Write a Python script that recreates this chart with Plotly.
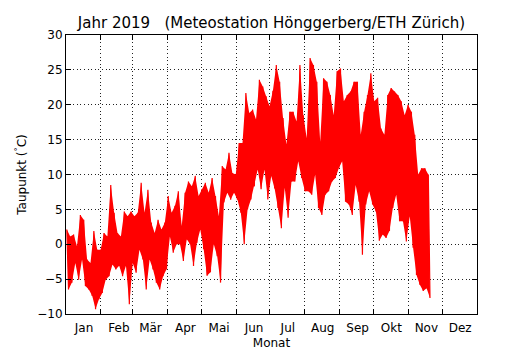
import pandas as pd
import plotly.graph_objects as go

# Dew point: highs and lows per 3-day block, starting 2019-01-01
block_hi = [2.1, 1.1, 1.4, -0.3, 4.2, 3.5, -2.2, -2.7, 1.9, -0.8,
            -0.8, 1.6, 1.1, 8.5, 4.5, 1.6, 1.1, 4.7, 4.0, 4.7,
            4.0, 4.5, 8.8, 4.5, 7.8, 3.1, 1.6, 3.5, 2.1, 3.1,
            6.9, 4.5, 5.5, 7.6, 2.6, 7.4, 9.0, 8.3, 9.8, 6.9,
            7.9, 8.8, 7.4, 9.5, 6.9, 4.0, 11.2, 10.7, 13.1, 10.2,
            10.0, 14.5, 14.5, 21.7, 18.8, 19.3, 17.9, 23.6, 22.6, 21.2,
            19.8, 22.0, 25.7, 23.3, 18.1, 14.3, 19.0, 19.0, 17.6, 25.7,
            18.5, 15.2, 26.7, 25.7, 23.3, 14.7, 23.8, 23.3, 21.4, 18.5,
            24.8, 25.2, 20.5, 21.4, 21.9, 23.3, 23.3, 15.7, 19.0, 21.4,
            24.5, 20.5, 21.0, 16.6, 15.7, 21.4, 22.4, 21.9, 21.4, 20.5,
            18.5, 20.0, 19.0, 15.7, 10.0, 10.9, 10.9, 10.0]
block_lo = [-6.5, -5.5, -2.7, -5.1, -2.2, -6.0, -6.5, -7.4, -9.3, -7.9,
            -7.0, -5.1, -4.6, -2.9, -3.6, -3.1, -4.6, -3.1, -8.6, -2.7,
            -4.1, -0.8, -2.2, -6.5, -2.2, -3.6, -5.5, -6.5, -4.6, -3.6,
            1.1, -1.2, 0.0, 0.0, -2.4, 0.7, 0.0, -3.1, 0.2, 2.1,
            -0.7, -4.5, -4.0, 0.0, -1.7, -5.5, 6.0, 7.4, 6.4, 7.4,
            6.4, 4.5, 0.0, 5.0, 6.4, 8.3, 10.7, 7.9, 10.7, 6.4,
            9.8, 8.0, 5.2, 2.3, 8.1, 3.8, 9.0, 9.0, 11.9, 9.5,
            7.6, 7.6, 7.1, 10.0, 5.2, 4.2, 7.1, 7.6, 9.0, 9.5,
            10.9, 11.9, 6.1, 5.7, 4.2, 8.5, 6.1, -1.5, 5.7, 7.6,
            5.7, 4.7, 0.5, 1.4, 0.9, 1.9, 5.2, 7.1, 3.3, 3.3,
            0.4, 4.0, -0.5, -4.4, -5.8, -6.7, -6.3, -7.7]

month_names = ["Jan", "Feb", "Mär", "Apr", "Mai", "Jun",
               "Jul", "Aug", "Sep", "Okt", "Nov", "Dez"]
month_starts = pd.date_range("2019-01-01", periods=12, freq="MS")
label_pos = month_starts + pd.Timedelta(days=16)
y_ticks = [-10, -5, 0, 5, 10, 15, 20, 25, 30]

block_start = pd.date_range("2019-01-01", periods=len(block_hi), freq="3D")
t_hi = [t + pd.Timedelta(hours=18) for t in block_start]
t_lo = [t + pd.Timedelta(hours=54) for t in block_start]
xs, ys = [], []
for a, hi, b, lo in zip(t_hi, block_hi, t_lo, block_lo):
    xs += [a, b]
    ys += [hi, lo]

font = "DejaVu Sans"
grid = dict(showgrid=True, gridcolor="#222", gridwidth=1, griddash="1px,2.6px")

fig = go.Figure()
# solid body between the lows and highs
fig.add_trace(go.Scatter(x=t_hi + t_lo[::-1], y=block_hi + block_lo[::-1],
                         mode="lines", fill="toself", fillcolor="#ff0000",
                         line=dict(width=0, color="#ff0000"),
                         showlegend=False, hoverinfo="skip"))
fig.add_trace(go.Scatter(x=xs, y=ys, mode="lines",
                         line=dict(color="#ff0000", width=1.2),
                         showlegend=False, hoverinfo="skip"))
fig.add_trace(go.Scatter(x=[label_pos[5]], y=[-100], xaxis="x2", mode="markers",
                         marker=dict(opacity=0), showlegend=False, hoverinfo="skip"))

xr = ["2019-01-01", "2020-01-01"]
fig.update_layout(
    width=530, height=350,
    margin=dict(l=66, r=53, t=35, b=36, autoexpand=False),
    paper_bgcolor="white", plot_bgcolor="white",
    font=dict(family=font, size=12, color="black"),
    title=dict(text="Jahr 2019\u00a0\u00a0\u00a0(Meteostation Hönggerberg/ETH Zürich)",
               x=271.5 / 530, xanchor="center", xref="container",
               y=1 - 23 / 350, yanchor="middle", yref="container",
               font=dict(size=15, family=font)),
    xaxis=dict(type="date", range=xr, tickvals=list(month_starts[1:]),
               showticklabels=False, ticks="inside", ticklen=5, tickcolor="black",
               showline=True, linecolor="black", linewidth=1, mirror="ticks",
               zeroline=False, layer="above traces", automargin=False, **grid),
    xaxis2=dict(type="date", range=xr, overlaying="x", side="bottom", anchor="y",
                tickvals=list(label_pos), ticktext=month_names, ticks="",
                ticklabelstandoff=5, automargin=False,
                showgrid=False, showline=False, zeroline=False,
                tickfont=dict(size=12, family=font),
                title=dict(text="Monat", font=dict(size=12, family=font), standoff=5)),
    yaxis=dict(range=[-10, 30], tickvals=y_ticks, ticks="inside", ticklen=5,
               tickcolor="black", showline=True, linecolor="black", linewidth=1,
               mirror="ticks", zeroline=False, tickfont=dict(size=12, family=font),
               layer="above traces", automargin=False,
               title=dict(text="Taupunkt (<sup>°</sup>C)", font=dict(size=12, family=font),
                          standoff=8),
               **grid),
)

fig.write_html("out.html")
